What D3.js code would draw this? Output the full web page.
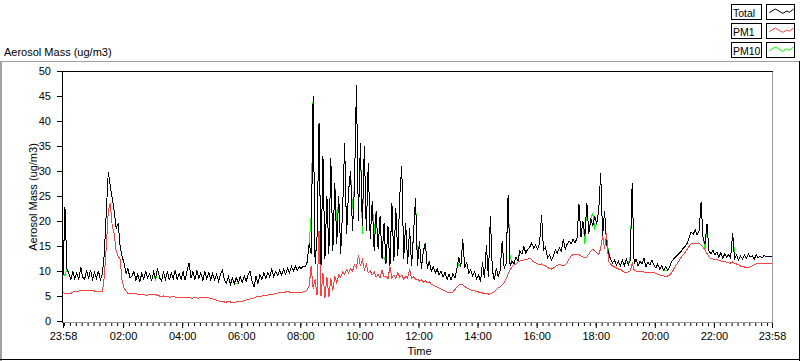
<!DOCTYPE html>
<html><head><meta charset="utf-8">
<script src="https://cdn.jsdelivr.net/npm/d3@7"></script>
<style>
html,body{margin:0;padding:0;background:#fff;}
svg{display:block;font-family:"Liberation Sans",Arial,sans-serif;}
</style></head><body>
<svg id="chart" width="800" height="361"></svg>
<script>
// ---------------- DATA ----------------
const chartTitle = "Aerosol Mass (ug/m3)";
const yAxisTitle = "Aerosol Mass (ug/m3)";
const xAxisTitle = "Time";
const seriesNames = ["Total", "PM1", "PM10"];
const seriesColors = ["#000000", "#ff4040", "#00ff00"];
const startTime = "2000-01-01T23:58:00";
const endTime = "2000-01-02T23:58:00";
const sampleStepMinutes = 4;

const totalValues = [
9.0,22.7,10.5,9.4,8.2,9.8,8.4,9.6,8.2,10.8,
8.7,8.4,10.1,8.5,10.2,8.4,9.7,8.6,10.0,8.3,
9.5,13.5,22.0,29.8,27.0,24.5,22.0,18.5,19.5,15.0,
13.0,11.5,9.5,10.5,8.6,9.0,9.9,8.2,9.4,7.8,
9.6,8.3,10.0,8.6,9.5,8.0,9.8,8.5,10.5,8.7,
8.0,9.7,8.4,9.9,8.2,9.6,8.5,10.2,8.3,9.5,
8.4,9.8,8.2,10.0,11.6,8.6,9.9,8.3,10.1,8.5,
9.6,8.1,9.9,8.4,9.7,8.3,9.5,8.2,9.3,8.0,
9.4,10.2,8.1,7.6,8.9,7.3,8.6,7.5,8.7,7.6,
8.9,7.7,9.0,7.9,9.3,10.0,8.0,6.8,8.9,7.5,
9.3,8.3,9.6,8.5,9.7,8.8,10.5,8.9,9.9,9.1,
10.2,9.2,10.4,9.4,10.5,9.7,10.9,10.0,11.0,10.1,
10.8,10.5,11.0,10.9,11.8,15.5,13.5,45.0,11.5,17.0,
39.5,11.0,33.0,12.5,25.0,13.5,32.5,14.0,27.5,15.5,
25.0,13.5,22.5,35.5,17.5,26.0,30.0,18.0,27.0,47.2,
20.0,35.5,19.0,35.0,18.0,31.5,16.5,24.0,14.0,22.0,
14.5,21.0,12.5,19.5,11.5,19.0,11.0,23.6,12.0,22.5,
13.0,25.0,31.0,12.5,19.5,11.5,18.5,11.0,17.5,24.6,
11.0,16.0,10.5,14.0,15.6,10.5,12.0,10.0,10.8,9.6,
10.4,9.2,10.0,8.8,9.8,8.3,9.4,8.2,9.5,8.6,
10.5,12.8,10.8,16.3,10.6,11.8,9.6,10.2,9.0,9.8,
8.4,9.2,7.9,11.7,8.6,15.1,8.8,21.0,10.2,8.2,
10.6,8.8,10.2,16.0,10.5,11.5,25.1,11.0,12.0,11.4,
12.8,12.0,14.0,13.4,14.8,13.6,14.4,14.8,15.6,14.6,
15.2,14.4,15.6,21.1,14.2,14.8,12.6,13.2,12.2,13.0,
14.2,13.6,14.6,14.0,16.3,14.4,15.4,16.0,15.4,16.4,
15.6,16.6,23.3,16.8,20.0,17.0,23.6,17.5,20.5,19.0,
21.0,19.5,22.0,29.6,17.0,22.0,15.5,13.6,12.4,11.6,
12.2,11.2,12.0,11.0,12.2,11.0,12.4,11.2,12.0,27.6,
11.4,12.4,11.0,12.0,11.4,12.6,10.8,11.8,11.2,12.2,
11.2,10.6,11.4,10.4,11.0,10.2,10.8,10.2,10.8,11.8,
12.4,12.8,13.2,13.6,14.0,14.6,15.0,15.6,16.8,17.8,
17.4,18.2,17.2,18.0,23.8,16.6,15.4,19.3,14.0,13.4,
14.2,13.2,13.8,12.8,13.6,12.6,13.4,12.8,13.2,12.6,
17.6,12.4,13.2,12.2,13.0,12.4,13.2,12.6,13.4,12.8,
13.0,12.4,13.2,12.6,13.0,12.6,13.2,12.8,13.0,12.8,
13.0];

const pm1Values = [
5.8,5.5,5.4,5.6,5.5,5.8,5.9,5.8,6.0,6.1,
6.0,6.1,6.2,6.1,6.0,6.1,6.0,5.9,5.9,5.8,
5.9,9.0,15.0,22.0,23.5,19.0,17.5,14.0,13.0,12.3,
8.0,6.6,6.0,5.5,5.6,5.5,5.4,5.5,5.3,5.3,
5.2,5.3,5.1,5.2,5.4,5.3,5.2,5.3,5.1,5.0,
4.9,5.0,4.9,4.9,4.8,4.8,4.9,4.8,4.8,4.7,
4.8,4.7,4.7,4.8,4.7,4.6,4.6,4.7,4.6,4.6,
4.7,4.6,4.7,4.7,4.6,4.5,4.4,4.3,4.1,4.0,
3.9,3.9,3.8,3.8,3.9,3.8,3.8,3.8,3.8,3.9,
3.8,3.9,4.1,4.2,4.3,4.4,4.6,4.6,4.8,4.9,
5.0,5.0,5.1,5.2,5.2,5.3,5.3,5.4,5.5,5.6,
5.7,5.8,5.8,5.8,5.9,5.8,5.8,5.7,5.6,5.7,
5.8,5.7,5.8,5.9,6.2,7.0,11.0,6.5,8.3,5.2,
18.0,5.0,9.6,4.7,8.8,4.8,8.5,6.0,9.0,7.6,
9.2,8.8,9.8,9.4,10.2,9.6,10.4,10.0,11.2,10.6,
13.2,11.0,12.2,10.2,11.4,9.6,10.0,9.2,9.8,8.8,
9.4,8.6,10.2,8.8,9.0,8.4,10.8,8.6,9.2,8.5,
9.6,8.8,9.2,8.4,8.9,8.6,10.3,8.5,8.8,8.4,
8.4,8.0,8.2,7.8,8.0,7.6,7.8,7.4,7.2,7.0,
6.8,6.6,6.4,6.2,6.0,5.8,5.7,5.6,5.8,6.3,
6.8,7.2,7.3,7.2,6.9,6.6,6.4,6.2,6.1,6.0,
5.9,5.8,5.7,5.6,5.5,5.5,5.4,5.4,5.6,5.8,
6.2,6.6,6.8,7.2,7.6,8.4,9.4,10.2,10.8,11.2,
11.4,11.8,12.0,12.1,12.2,12.3,12.4,12.6,12.2,11.8,
11.6,11.4,11.3,11.4,11.1,11.0,10.7,10.5,10.4,10.6,
10.9,11.1,11.3,11.2,11.0,11.2,11.6,12.4,13.0,13.3,
13.4,13.2,13.3,13.0,12.8,12.6,12.8,13.4,14.0,14.3,
14.0,13.6,13.3,14.5,17.0,14.5,17.5,12.0,11.4,11.0,
10.8,10.6,10.4,10.4,10.0,9.8,9.7,9.8,10.0,11.6,
10.2,10.0,9.8,9.9,10.0,9.8,9.6,9.8,9.7,9.6,
9.7,9.5,9.3,9.2,9.1,9.0,9.0,9.0,9.2,9.6,
10.3,11.0,11.6,12.2,12.8,13.3,13.8,14.4,15.0,15.4,
15.6,15.5,15.4,15.5,15.2,14.8,14.2,13.5,12.8,12.5,
12.4,12.2,12.3,12.1,12.0,11.8,11.9,11.7,11.6,11.6,
11.8,11.5,11.4,11.3,11.0,10.9,10.8,10.7,10.7,10.8,
11.0,11.2,11.4,11.5,11.6,11.5,11.6,11.5,11.6,11.5,
11.6];

const pm10Values = [
9.6,9.0,10.5,9.4,8.2,9.8,8.4,9.6,8.2,10.8,
8.7,8.4,10.1,8.5,10.2,8.4,9.7,8.6,10.0,8.3,
9.5,13.5,22.0,29.8,27.0,24.5,22.0,18.5,19.5,15.0,
13.0,11.5,9.5,10.5,8.6,9.0,9.9,8.2,9.4,7.8,
9.6,8.3,10.0,8.6,9.5,8.0,9.8,8.0,10.5,8.7,
8.0,9.7,8.4,9.9,8.2,9.6,8.5,10.2,8.3,9.5,
8.4,9.8,8.2,10.0,11.6,8.6,9.9,8.3,10.1,8.5,
9.6,8.1,9.9,8.4,9.7,8.3,9.5,8.2,9.3,8.0,
9.4,10.2,8.1,7.6,8.9,7.3,8.6,7.5,7.4,7.6,
8.9,7.7,9.0,7.9,9.3,10.0,8.0,6.8,8.9,7.5,
9.3,8.3,9.6,8.5,9.7,8.8,10.5,8.9,9.9,9.1,
10.2,9.2,10.4,9.4,10.5,9.7,10.9,10.0,11.0,10.1,
10.8,10.5,11.0,10.9,11.8,15.5,21.0,45.0,11.5,17.0,
39.5,11.0,33.0,12.5,25.0,13.5,32.5,14.0,27.5,19.0,
25.0,13.5,22.5,35.5,17.5,26.0,30.0,22.5,27.0,47.2,
20.0,35.5,17.5,35.0,18.0,31.5,16.5,24.0,17.5,22.0,
14.5,21.0,12.5,12.8,11.5,19.0,11.0,23.6,12.0,22.5,
13.0,25.0,31.0,12.5,19.5,11.5,18.5,11.0,17.5,24.6,
12.0,16.0,10.5,14.0,15.6,10.5,12.0,10.0,10.8,9.6,
10.4,9.2,10.0,8.8,9.8,8.3,9.4,8.2,9.5,8.6,
10.5,11.5,10.8,16.3,10.6,11.8,9.6,10.2,9.0,9.8,
8.4,9.2,7.9,11.7,8.6,15.1,8.8,21.0,10.2,8.2,
10.6,8.8,10.2,16.0,10.5,11.5,25.1,12.8,12.0,11.4,
12.8,12.0,14.0,13.4,14.8,13.6,14.4,14.8,15.6,14.6,
15.2,14.4,15.6,21.1,14.2,14.8,12.6,13.2,12.2,13.0,
14.2,13.6,14.6,14.0,16.3,14.4,15.4,16.0,15.4,16.4,
15.6,16.6,23.3,16.8,20.0,15.4,23.6,17.5,20.5,21.5,
18.6,19.5,22.0,29.6,17.0,22.0,15.5,14.3,12.4,11.6,
12.2,11.2,12.0,11.0,12.2,11.0,12.4,11.2,13.0,27.6,
11.4,12.4,11.0,12.0,11.4,12.6,10.8,11.8,11.2,12.2,
11.2,10.6,11.4,10.4,11.0,10.2,10.0,10.2,10.8,11.8,
12.4,12.8,13.2,13.6,14.0,14.6,15.0,15.6,16.8,17.8,
17.4,18.2,17.2,18.0,23.8,16.6,14.5,19.3,14.0,13.4,
14.2,13.2,13.8,12.8,13.6,12.6,13.4,12.8,13.2,12.6,
17.6,13.8,13.2,12.2,13.0,12.4,13.2,12.6,13.4,12.8,
13.0,12.4,13.2,12.6,13.0,12.6,13.2,12.8,13.0,12.8,
13.0];

const yTickValues = [0, 5, 10, 15, 20, 25, 30, 35, 40, 45, 50];
const xMajorTickTimes = [
  "2000-01-01T23:58:00", "2000-01-02T02:00:00", "2000-01-02T04:00:00",
  "2000-01-02T06:00:00", "2000-01-02T08:00:00", "2000-01-02T10:00:00",
  "2000-01-02T12:00:00", "2000-01-02T14:00:00", "2000-01-02T16:00:00",
  "2000-01-02T18:00:00", "2000-01-02T20:00:00", "2000-01-02T22:00:00",
  "2000-01-02T23:58:00"];
const xMinorTickStepMinutes = 12;
// legend sample zigzag (relative to sample box)
const legendZigzag = [[2.3, 8.7], [8.3, 5], [15.7, 9.3], [20, 7], [22.3, 8.3], [26.7, 5]];

// ---------------- CHART ----------------
const svg = d3.select("#chart");
const FONT = 11;
const plot = {left: 63, right: 772, top: 71, bottom: 321};

const t0 = new Date(startTime), t1 = new Date(endTime);
const x = d3.scaleTime().domain([t0, t1]).range([plot.left, plot.right]);
const y = d3.scaleLinear().domain([0, 50]).range([plot.bottom, plot.top]);

function seriesPoints(vals) {
  return vals.map((v, i) => ({t: new Date(t0.getTime() + i * sampleStepMinutes * 60000), v}));
}

// Outer panel frame
svg.append("rect").attr("x", 0).attr("y", 61).attr("width", 2).attr("height", 300).attr("fill", "#a0a0a0");
svg.append("line").attr("x1", 0).attr("x2", 800).attr("y1", 61.5).attr("y2", 61.5).attr("stroke", "#a0a0a0");
svg.append("line").attr("x1", 0).attr("x2", 800).attr("y1", 359.5).attr("y2", 359.5).attr("stroke", "#000");
svg.append("line").attr("x1", 799.5).attr("x2", 799.5).attr("y1", 61).attr("y2", 361).attr("stroke", "#000");

// Title
svg.append("text").attr("x", 4).attr("y", 56).attr("font-size", FONT).attr("fill", "#000").text(chartTitle);

// Plot frame
svg.append("line").attr("x1", 62).attr("x2", 773).attr("y1", 71.5).attr("y2", 71.5).attr("stroke", "#000");
svg.append("line").attr("x1", 62.5).attr("x2", 62.5).attr("y1", 71).attr("y2", 323).attr("stroke", "#000");
svg.append("line").attr("x1", 63).attr("x2", 773).attr("y1", 322.5).attr("y2", 322.5).attr("stroke", "#999");
svg.append("line").attr("x1", 772.5).attr("x2", 772.5).attr("y1", 72).attr("y2", 323).attr("stroke", "#999");

// Clip
svg.append("clipPath").attr("id", "clip").append("rect")
  .attr("x", 63).attr("y", 72).attr("width", 709).attr("height", 250);

// Series: PM10 under, Total, then PM1 on top
const line = d3.line().x(d => x(d.t)).y(d => y(d.v));
const gData = svg.append("g").attr("clip-path", "url(#clip)");
[[pm10Values, 2], [totalValues, 0], [pm1Values, 1]].forEach(([vals, k]) => {
  gData.append("path").datum(seriesPoints(vals))
    .attr("d", line).attr("fill", "none")
    .attr("stroke", seriesColors[k]).attr("stroke-width", 1)
    .attr("shape-rendering", "crispEdges");
});

// Y axis
const yAxis = d3.axisLeft(y).tickValues(yTickValues).tickSize(5).tickPadding(6).tickFormat(d3.format("d"));
const gy = svg.append("g").attr("transform", "translate(62,0)").call(yAxis);
gy.select(".domain").remove();
gy.selectAll("line").attr("stroke", "#000");
gy.selectAll("text").attr("font-size", FONT).attr("font-family", null).attr("fill", "#000");

// X axis minor ticks
const minorDates = d3.timeMinute.every(xMinorTickStepMinutes).range(t0, t1);
const xMinor = d3.axisBottom(x).tickValues(minorDates).tickSize(3).tickFormat("");
const gxm = svg.append("g").attr("transform", "translate(0,323)").call(xMinor);
gxm.select(".domain").remove();
gxm.selectAll("line").attr("stroke", "#000");

// X axis major ticks
const majorDates = xMajorTickTimes.map(s => new Date(s));
const xMajor = d3.axisBottom(x).tickValues(majorDates).tickSize(5).tickPadding(4).tickFormat(d3.timeFormat("%H:%M"));
const gx = svg.append("g").attr("transform", "translate(0,323)").call(xMajor);
gx.select(".domain").remove();
gx.selectAll("line").attr("stroke", "#000");
gx.selectAll("text").attr("font-size", FONT).attr("font-family", null).attr("fill", "#000");

// Axis titles
svg.append("text").attr("x", (plot.left + plot.right) / 2 + 2).attr("y", 355)
  .attr("text-anchor", "middle").attr("font-size", FONT).attr("fill", "#000").text(xAxisTitle);
svg.append("text").attr("transform", `translate(37,${(plot.top + plot.bottom) / 2 + 1}) rotate(-90)`)
  .attr("text-anchor", "middle").attr("font-size", FONT).attr("fill", "#000").text(yAxisTitle);

// Legend
const legendRowsY = [4, 23, 42];
const zz = d3.line();
seriesNames.forEach((name, k) => {
  const y0 = legendRowsY[k];
  svg.append("rect").attr("x", 731.5).attr("y", y0 + 0.5).attr("width", 30).attr("height", 15)
    .attr("fill", "#fff").attr("stroke", "#000");
  svg.append("text").attr("x", 733).attr("y", y0 + 12.5).attr("font-size", 10.5).attr("fill", "#000").text(name);
  svg.append("rect").attr("x", 766.5).attr("y", y0 + 0.5).attr("width", 28).attr("height", 15)
    .attr("fill", "#fff").attr("stroke", "#000");
  svg.append("path").attr("d", zz(legendZigzag.map(([a, b]) => [767 + a, y0 + b])))
    .attr("fill", "none").attr("stroke", seriesColors[k]).attr("stroke-width", 1);
});
</script>
</body></html>
